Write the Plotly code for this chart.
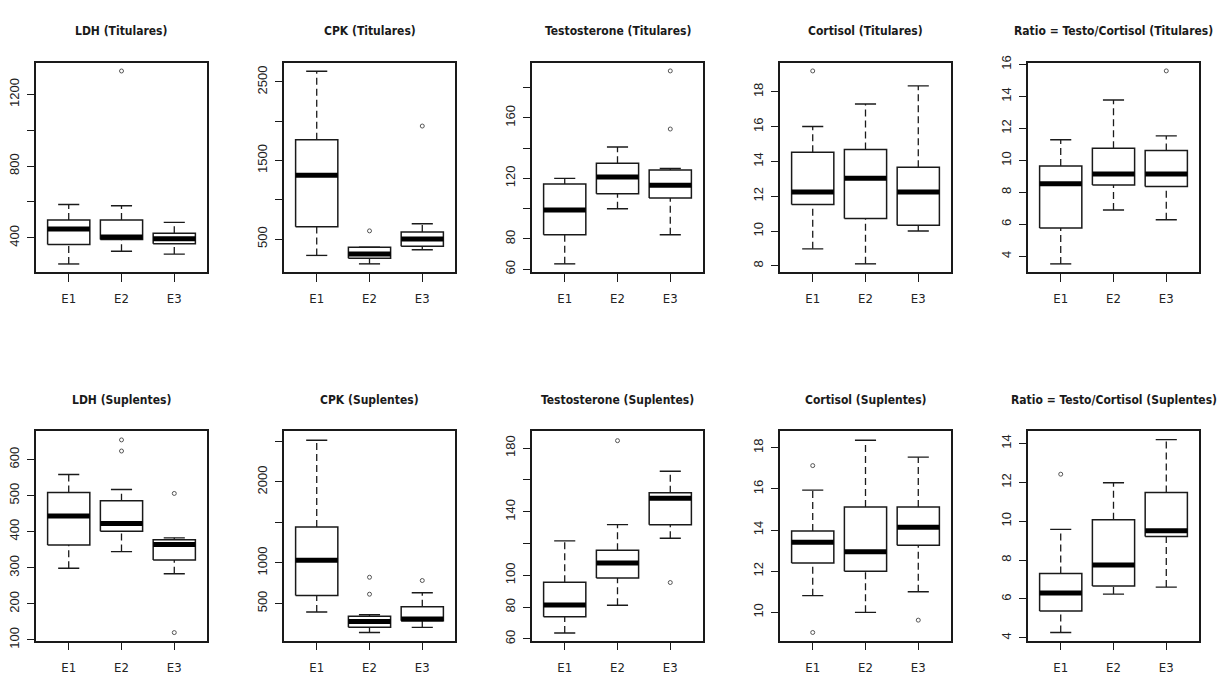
import plotly.graph_objects as go

W, H = 1218, 681
groups = ["E1", "E2", "E3"]

# five-number summaries per group: [lower whisker, Q1, median, Q3, upper whisker]
ldh_tit = [[254, 362, 449, 500, 586], [325, 391, 405, 500, 579], [309, 367, 395, 426, 486]]
ldh_tit_out = [[], [1331], []]
cpk_tit = [[292, 658, 1311, 1764, 2637], [184, 255, 309, 396, 396], [363, 409, 500, 591, 695]]
cpk_tit_out = [[], [604], [1939]]
testo_tit = [[63.5, 82.7, 99.1, 116.3, 120], [99.9, 109.9, 120.9, 129.9, 140.7], [82.7, 107.1, 115.5, 125.6, 126.5]]
testo_tit_out = [[], [], [191, 152.6]]
cort_tit = [[8.98, 11.53, 12.24, 14.53, 16.01], [8.12, 10.73, 13.03, 14.68, 17.30], [10.01, 10.33, 12.24, 13.67, 18.34]]
cort_tit_out = [[19.2], [], []]
ratio_tit = [[3.52, 5.77, 8.53, 9.65, 11.29], [6.89, 8.45, 9.14, 10.76, 13.78], [6.28, 8.36, 9.14, 10.61, 11.53]]
ratio_tit_out = [[], [], [15.6]]

ldh_sup = [[298.6, 362.9, 443.5, 508.7, 558.5], [344.7, 400.9, 422.6, 486, 516.8], [283.2, 321.2, 364.7, 377.4, 382.8]]
ldh_sup_out = [[], [654.5, 623.7], [506, 120.1]]
cpk_sup = [[394, 598, 1032, 1442, 2514], [141, 205, 277, 341, 361], [205, 285, 309, 458, 631]]
cpk_sup_out = [[], [823, 614], [783]]
testo_sup = [[63.8, 74.0, 81.4, 95.7, 121.7], [81.2, 98.4, 107.8, 115.8, 131.9], [123.3, 131.9, 148.5, 152, 165.5]]
testo_sup_out = [[], [184.7], [95.5]]
cort_sup = [[10.81, 12.40, 13.40, 13.95, 15.94], [10.0, 12.0, 12.94, 15.12, 18.36], [11.0, 13.26, 14.14, 15.12, 17.54]]
cort_sup_out = [[17.13, 9.02], [], [9.62]]
ratio_sup = [[4.27, 5.38, 6.30, 7.31, 9.58], [6.25, 6.67, 7.75, 10.07, 11.98], [6.61, 9.21, 9.51, 11.48, 14.20]]
ratio_sup_out = [[12.42], [], []]

titles = ["LDH (Titulares)", "CPK (Titulares)", "Testosterone (Titulares)", "Cortisol (Titulares)",
          "Ratio = Testo/Cortisol (Titulares)",
          "LDH (Suplentes)", "CPK (Suplentes)", "Testosterone (Suplentes)", "Cortisol (Suplentes)",
          "Ratio = Testo/Cortisol (Suplentes)"]

# y-axis ranges and ticks per panel
y_ranges = [[209, 1377], [80, 2745], [58.1, 196.4], [7.65, 19.67], [3.01, 16.11],
            [97.5, 678], [40, 2622], [58.9, 190.5], [8.62, 18.79], [3.85, 14.62]]
y_ticks = [[400, 600, 800, 1000, 1200], [500, 1000, 1500, 2000, 2500], [60, 80, 100, 120, 140, 160, 180],
           [8, 10, 12, 14, 16, 18], [4, 6, 8, 10, 12, 14, 16],
           [100, 200, 300, 400, 500, 600], [500, 1000, 1500, 2000, 2500], [60, 80, 100, 120, 140, 160, 180],
           [10, 12, 14, 16, 18], [4, 6, 8, 10, 12, 14]]
y_labels = [["400", "", "800", "", "1200"], ["500", "", "1500", "", "2500"],
            ["60", "80", "", "120", "", "160", ""],
            ["8", "10", "12", "14", "16", "18"], ["4", "6", "8", "10", "12", "14", "16"],
            ["100", "200", "300", "400", "500", "600"], ["500", "1000", "", "2000", ""],
            ["60", "80", "100", "", "140", "", "180"],
            ["10", "12", "14", "16", "18"], ["4", "6", "8", "10", "12", "14"]]

panels = [(ldh_tit, ldh_tit_out), (cpk_tit, cpk_tit_out), (testo_tit, testo_tit_out),
          (cort_tit, cort_tit_out), (ratio_tit, ratio_tit_out),
          (ldh_sup, ldh_sup_out), (cpk_sup, cpk_sup_out), (testo_sup, testo_sup_out),
          (cort_sup, cort_sup_out), (ratio_sup, ratio_sup_out)]

NARROW = "DejaVu Sans Condensed, Liberation Sans, Arial, sans-serif"

fig = go.Figure()
LC = "#1a1a1a"
BW = 0.4   # half box width
SW = 0.2   # half staple width

row_px = [(57, 271), (434, 648)]
for p, (stats, outs) in enumerate(panels):
    r, c = divmod(p, 5)
    left = 36 + 248 * c
    right = left + 171
    top, bot = row_px[r]
    k = p + 1
    xa = "x" if k == 1 else f"x{k}"
    ya = "y" if k == 1 else f"y{k}"
    xs_box, ys_box, xs_med, ys_med, xs_wh, ys_wh, xs_st, ys_st, xs_o, ys_o = ([] for _ in range(10))
    for i, (lo, q1, md, q3, up) in enumerate(stats):
        x = i + 1
        xs_box += [x - BW, x + BW, x + BW, x - BW, x - BW, None]
        ys_box += [q1, q1, q3, q3, q1, None]
        xs_med += [x - BW, x + BW, None]
        ys_med += [md, md, None]
        xs_wh += [x, x, None, x, x, None]
        ys_wh += [lo, q1, None, q3, up, None]
        xs_st += [x - SW, x + SW, None, x - SW, x + SW, None]
        ys_st += [lo, lo, None, up, up, None]
        for v in outs[i]:
            xs_o.append(x)
            ys_o.append(v)
    common = dict(xaxis=xa, yaxis=ya, showlegend=False, hoverinfo="skip", mode="lines")
    fig.add_trace(go.Scatter(x=xs_wh, y=ys_wh, line=dict(color=LC, width=1.3, dash="7px,4px"), **common))
    fig.add_trace(go.Scatter(x=xs_st, y=ys_st, line=dict(color=LC, width=1.4), **common))
    fig.add_trace(go.Scatter(x=xs_box, y=ys_box, line=dict(color=LC, width=1.5), **common))
    fig.add_trace(go.Scatter(x=xs_med, y=ys_med, line=dict(color="black", width=5), **common))
    fig.add_trace(go.Scatter(x=xs_o, y=ys_o, xaxis=xa, yaxis=ya, mode="markers", showlegend=False,
                             hoverinfo="skip",
                             marker=dict(symbol="circle-open", size=4, color="#555", line=dict(width=1))))
    xkey = "xaxis" if k == 1 else f"xaxis{k}"
    ykey = "yaxis" if k == 1 else f"yaxis{k}"
    fig.layout[xkey] = dict(domain=[left / W, right / W], anchor=ya, range=[0.38, 3.62],
                            tickvals=[1, 2, 3], ticktext=groups, ticks="outside", ticklen=8,
                            tickcolor=LC, tickwidth=1.3, showline=True, linecolor=LC, linewidth=1.5,
                            mirror=True, showgrid=False, zeroline=False, ticklabelstandoff=6,
                            tickfont=dict(family=NARROW, size=13, color="#222"))
    fig.layout[ykey] = dict(domain=[1 - bot / H, 1 - top / H], anchor=xa, range=y_ranges[p],
                            tickvals=y_ticks[p], ticktext=y_labels[p], ticks="outside", ticklen=7,
                            tickcolor=LC, tickwidth=1.3, showline=True, linecolor=LC, linewidth=1.5,
                            mirror=True, showgrid=False, zeroline=False, tickangle=-90,
                            ticklabelstandoff=3,
                            tickfont=dict(family="Liberation Sans", size=13, color="#222"))
    ty = 25 if r == 0 else 402
    fig.add_annotation(x=(left + right) / 2 / W, y=1 - ty / H, xref="paper", yref="paper",
                       text=f"<b>{titles[p]}</b>", showarrow=False, xanchor="center", yanchor="middle",
                       font=dict(family=NARROW, size=12, color="#1a1a1a"))

fig.update_layout(width=W, height=H, margin=dict(l=0, r=0, t=0, b=0),
                  plot_bgcolor="white", paper_bgcolor="white")
fig.write_html("out.html", include_plotlyjs=True, config={"displayModeBar": False})
